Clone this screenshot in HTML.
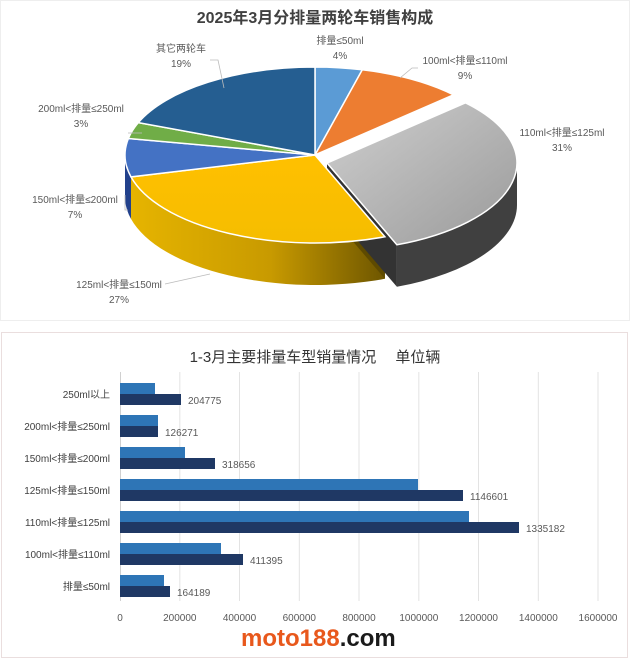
<!DOCTYPE html>
<html><head><meta charset="utf-8"><style>
body{margin:0;background:#fff;}
svg{display:block;font-family:"Liberation Sans","Noto Sans CJK SC",sans-serif;}
</style></head><body>
<svg width="630" height="659" viewBox="0 0 630 659">
<defs>
<linearGradient id="yg" x1="1" y1="0" x2="0" y2="0">
<stop offset="0" stop-color="#6e5600"/><stop offset="0.45" stop-color="#c89a00"/><stop offset="1" stop-color="#e6b400"/></linearGradient>
<linearGradient id="gg" x1="0" y1="0" x2="1" y2="1">
<stop offset="0" stop-color="#cfcfcf"/><stop offset="1" stop-color="#9a9a9a"/></linearGradient>
<linearGradient id="ytop" x1="0" y1="0" x2="0" y2="1">
<stop offset="0" stop-color="#ffc000"/><stop offset="1" stop-color="#f5bd00"/></linearGradient>
</defs>
<rect x="0.5" y="0.5" width="629" height="320" fill="#fff" stroke="#eeeeee"/>
<text x="315" y="23" text-anchor="middle" font-size="16" font-weight="bold" fill="#404040">2025年3月分排量两轮车销售构成</text>
<path d="M384.9,236.8 A190 88 0 0 1 131,176.9 L131,218.9 A190 88 0 0 0 384.9,278.8 Z" fill="url(#yg)"/>
<path d="M315,155 L384.9,236.8 L384.9,278.8 L315,197 Z" fill="#5e4a00"/>
<path d="M131,176.9 A190 88 0 0 1 125,155 L125,197 A190 88 0 0 0 131,218.9 Z" fill="#22418c"/>
<path d="M517,163 A190 88 0 0 1 396.9,244.8 L396.9,286.8 A190 88 0 0 0 517,205 Z" fill="#404040"/>
<path d="M327,163 L396.9,244.8 L396.9,286.8 L327,205 Z" fill="#333"/>
<g stroke="#fff" stroke-width="1.5">
<path d="M315,155 L315,67 A190 88 0 0 1 362.3,69.8 Z" fill="#5b9bd5"/>
<path d="M315,155 L362.3,69.8 A190 88 0 0 1 453.5,94.8 Z" fill="#ed7d31"/>
<path d="M327,163 L465.5,102.8 A190 88 0 0 1 396.9,244.8 Z" fill="url(#gg)"/>
<path d="M315,155 L384.9,236.8 A190 88 0 0 1 131,176.9 Z" fill="url(#ytop)"/>
<path d="M315,155 L131,176.9 A190 88 0 0 1 128.4,138.5 Z" fill="#4472c4"/>
<path d="M315,155 L128.4,138.5 A190 88 0 0 1 138.3,122.6 Z" fill="#70ad47"/>
<path d="M315,155 L138.3,122.6 A190 88 0 0 1 315,67 Z" fill="#255e91"/>
</g>
<g stroke="#bbb" fill="none" stroke-width="0.8">
<path d="M210,60 L218,60 L224,88"/><path d="M400,78 L412,68 L418,68"/>
<path d="M142,133 L128,133"/><path d="M125,195 L125,210 L128,210"/>
<path d="M165,284 L210,274"/>
</g>
<g font-size="10" fill="#595959" text-anchor="middle">
<text x="181" y="52">其它两轮车</text><text x="181" y="67">19%</text>
<text x="340" y="44">排量≤50ml</text><text x="340" y="59">4%</text>
<text x="465" y="64">100ml&lt;排量≤110ml</text><text x="465" y="79">9%</text>
<text x="562" y="136">110ml&lt;排量≤125ml</text><text x="562" y="151">31%</text>
<text x="81" y="112">200ml&lt;排量≤250ml</text><text x="81" y="127">3%</text>
<text x="75" y="203">150ml&lt;排量≤200ml</text><text x="75" y="218">7%</text>
<text x="119" y="288">125ml&lt;排量≤150ml</text><text x="119" y="303">27%</text>
</g>
<rect x="1.5" y="332.5" width="626" height="325" fill="#fff" stroke="#eadede"/>
<text x="315" y="362" text-anchor="middle" font-size="15" fill="#333">1-3月主要排量车型销量情况　 单位辆</text>
<g stroke="#e3e3e3" stroke-width="1">
<line x1="179.8" y1="372" x2="179.8" y2="601"/><line x1="239.5" y1="372" x2="239.5" y2="601"/>
<line x1="299.3" y1="372" x2="299.3" y2="601"/><line x1="359" y1="372" x2="359" y2="601"/>
<line x1="418.8" y1="372" x2="418.8" y2="601"/><line x1="478.5" y1="372" x2="478.5" y2="601"/>
<line x1="538.3" y1="372" x2="538.3" y2="601"/><line x1="598" y1="372" x2="598" y2="601"/>
</g>
<line x1="120.5" y1="372" x2="120.5" y2="601" stroke="#d0d0d0"/>
<g fill="#2e75b6">
<rect x="120" y="383" width="35" height="11"/><rect x="120" y="415" width="38" height="11"/>
<rect x="120" y="447" width="65" height="11"/><rect x="120" y="479" width="298" height="11"/>
<rect x="120" y="511" width="349" height="11"/><rect x="120" y="543" width="101" height="11"/>
<rect x="120" y="575" width="44" height="11"/>
</g>
<g fill="#1f3864">
<rect x="120" y="394" width="61" height="11"/><rect x="120" y="426" width="38" height="11"/>
<rect x="120" y="458" width="95" height="11"/><rect x="120" y="490" width="343" height="11"/>
<rect x="120" y="522" width="399" height="11"/><rect x="120" y="554" width="123" height="11"/>
<rect x="120" y="586" width="50" height="11"/>
</g>
<g font-size="10" fill="#595959">
<text x="188" y="404">204775</text><text x="165" y="436">126271</text>
<text x="222" y="468">318656</text><text x="470" y="500">1146601</text>
<text x="526" y="532">1335182</text><text x="250" y="564">411395</text>
<text x="177" y="596">164189</text>
</g>
<g font-size="10" fill="#404040" text-anchor="end">
<text x="110" y="398">250ml以上</text><text x="110" y="430">200ml&lt;排量≤250ml</text>
<text x="110" y="462">150ml&lt;排量≤200ml</text><text x="110" y="494">125ml&lt;排量≤150ml</text>
<text x="110" y="526">110ml&lt;排量≤125ml</text><text x="110" y="558">100ml&lt;排量≤110ml</text>
<text x="110" y="590">排量≤50ml</text>
</g>
<g font-size="10" fill="#595959" text-anchor="middle">
<text x="120" y="621">0</text><text x="179.8" y="621">200000</text><text x="239.5" y="621">400000</text>
<text x="299.3" y="621">600000</text><text x="359" y="621">800000</text><text x="418.8" y="621">1000000</text>
<text x="478.5" y="621">1200000</text><text x="538.3" y="621">1400000</text><text x="598" y="621">1600000</text>
</g>
<text x="241" y="646" font-size="24" font-weight="bold"><tspan fill="#e8581c">moto188</tspan><tspan fill="#1a1a1a">.com</tspan></text>
</svg>
</body></html>
